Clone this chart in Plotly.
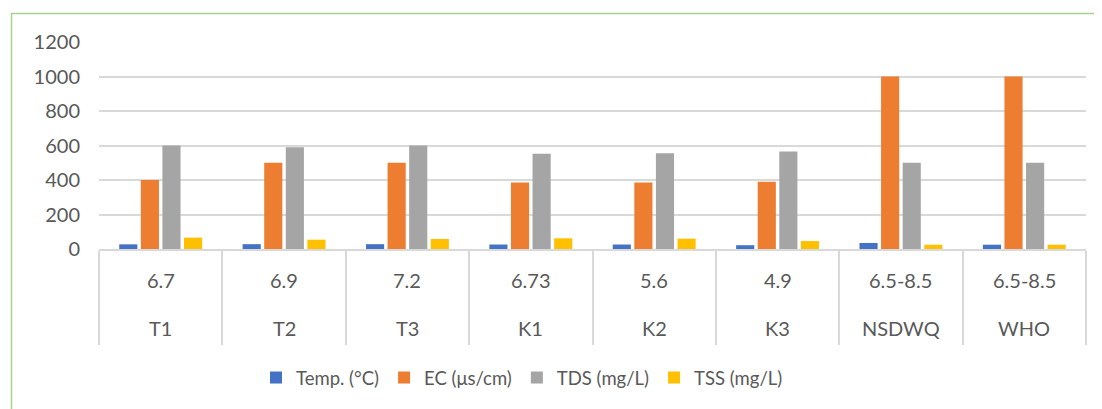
import plotly.graph_objects as go

sites = ["T1", "T2", "T3", "K1", "K2", "K3", "NSDWQ", "WHO"]
ph_labels = ["6.7", "6.9", "7.2", "6.73", "5.6", "4.9", "6.5-8.5", "6.5-8.5"]
temp = [27, 28, 28, 26, 26, 22, 35, 25]
ec = [400, 500, 500, 385, 385, 390, 1000, 1000]
tds = [600, 590, 600, 552, 555, 565, 500, 500]
tss = [66, 54, 58, 62, 60, 46, 25, 25]

series = [
    ("Temp. (°C)", temp, "#4472C4"),
    ("EC (μs/cm)", ec, "#ED7D31"),
    ("TDS (mg/L)", tds, "#A5A5A5"),
    ("TSS (mg/L)", tss, "#FFC000"),
]

FONT = "Lato, Calibri, sans-serif"
TXT = "#595959"
GRID = "#D9D9D9"

fig = go.Figure()
for name, vals, col in series:
    fig.add_trace(go.Bar(x=sites, y=vals, name=name, marker=dict(color=col, line=dict(width=0))))

# page body has an 8px margin; work in figure coordinates (screen - 8)
OFF = 8
W, H = 1102 - OFF, 409 - OFF
L, T = 99 - OFF, 42 - OFF
R = W - (1086 - OFF)
B = H - (249 - OFF)
ph_ = H - T - B
pw = W - L - R

def py(yscreen):
    return 1 - (yscreen - OFF - T) / ph_

def px(xscreen):
    return (xscreen - OFF - L) / pw

annotations = []
for s, p in zip(sites, ph_labels):
    annotations.append(dict(x=s, y=py(280), xref="x", yref="paper", text=p, showarrow=False,
                            font=dict(family=FONT, size=20, color=TXT), xanchor="center", yanchor="middle"))
    annotations.append(dict(x=s, y=py(328), xref="x", yref="paper", text=s, showarrow=False,
                            font=dict(family=FONT, size=20, color=TXT), xanchor="center", yanchor="middle"))

fig.update_layout(
    width=W, height=H,
    margin=dict(l=L, r=R, t=T, b=B, autoexpand=False),
    paper_bgcolor="white", plot_bgcolor="white",
    barmode="group", bargap=0.30, bargroupgap=0.16,
    font=dict(family=FONT, size=20, color=TXT),
    showlegend=True,
    legend=dict(orientation="h", x=px(522), xanchor="center", y=py(378), yanchor="middle",
                font=dict(family=FONT, size=18.5, color=TXT), itemwidth=30, tracegroupgap=0,
                bgcolor="rgba(0,0,0,0)"),
    xaxis=dict(type="category", showticklabels=False, ticks="outside", tickson="boundaries",
               ticklen=94, tickcolor=GRID, tickwidth=1.5, showline=True, linecolor=GRID, linewidth=1.5,
               showgrid=False, fixedrange=True),
    yaxis=dict(range=[0, 1200], dtick=200, showgrid=True, gridcolor=GRID, gridwidth=1.5,
               zeroline=False, showline=False, ticks="", ticklabelstandoff=18,
               tickfont=dict(family=FONT, size=20, color=TXT), fixedrange=True),
    annotations=annotations,
    shapes=[dict(type="rect", xref="paper", yref="paper", x0=px(11.5), x1=px(1115), y0=py(425), y1=py(13.5),
                 line=dict(color="#A9D18E", width=1.5), fillcolor="rgba(0,0,0,0)", layer="below")],
)

fig.write_html("out.html")
